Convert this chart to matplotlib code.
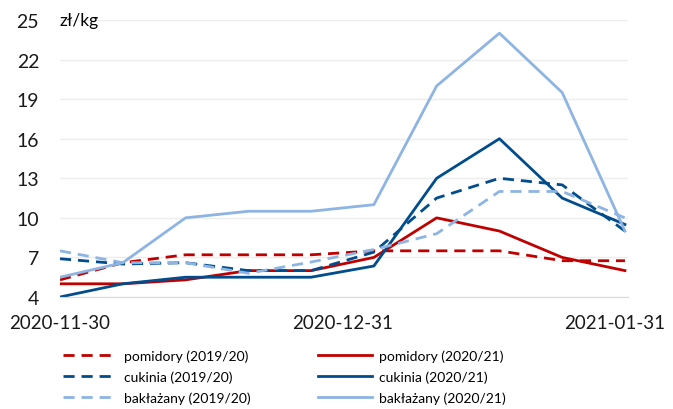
import matplotlib
matplotlib.use("Agg")
import matplotlib.pyplot as plt
import matplotlib.dates as mdates
import matplotlib.transforms as mtransforms
import pandas as pd

# weekly prices, zl/kg
dates = pd.date_range("2020-11-30", "2021-01-31", periods=10)
pomidory_1920 = [5.3, 6.6, 7.2, 7.2, 7.2, 7.5, 7.5, 7.5, 6.75, 6.75]
pomidory_2021 = [5.0, 5.0, 5.3, 6.0, 6.0, 7.0, 10.0, 9.0, 7.0, 6.0]
cukinia_1920 = [6.9, 6.5, 6.6, 6.0, 6.0, 7.4, 11.5, 13.0, 12.5, 9.0]
cukinia_2021 = [4.0, 5.0, 5.5, 5.5, 5.5, 6.35, 13.0, 16.0, 11.5, 9.5]
baklazany_1920 = [7.5, 6.6, 6.6, 5.8, 6.65, 7.6, 8.8, 12.0, 12.0, 10.0]
baklazany_2021 = [5.5, 6.6, 10.0, 10.5, 10.5, 11.0, 20.0, 24.0, 19.5, 9.0]

yticks = [4, 7, 10, 13, 16, 19, 22, 25]
xticks = ["2020-11-30", "2020-12-31", "2021-01-31"]

red = "#C00000"
dblue = "#004C8C"
lblue = "#8DB4E2"

plt.rcParams["font.family"] = ["Lato", "DejaVu Sans"]

fig = plt.figure(figsize=(6.73, 4.10), dpi=100)
ax = fig.add_axes([60 / 673, 1 - 298 / 410, 568 / 673, 277 / 410])

lw = 2.0
dash = (0, (4, 2.5))
ax.plot(dates, pomidory_1920, color=red, lw=lw, ls=dash, label="pomidory (2019/20)")
ax.plot(dates, pomidory_2021, color=red, lw=lw, label="pomidory (2020/21)")
ax.plot(dates, cukinia_1920, color=dblue, lw=lw, ls=dash, label="cukinia (2019/20)")
ax.plot(dates, cukinia_2021, color=dblue, lw=lw, label="cukinia (2020/21)")
ax.plot(dates, baklazany_1920, color=lblue, lw=lw, ls=dash, label="bakłażany (2019/20)")
ax.plot(dates, baklazany_2021, color=lblue, lw=lw, label="bakłażany (2020/21)")

ax.set_ylim(4, 25)
ax.set_yticks(yticks)
ax.set_xlim(pd.Timestamp("2020-11-30"), pd.Timestamp("2021-01-31") + pd.Timedelta(hours=8))
ax.set_xticks(pd.to_datetime(xticks))
ax.xaxis.set_major_formatter(mdates.DateFormatter("%Y-%m-%d"))

ax.grid(axis="y", color="#EDEDED", lw=1)
ax.set_axisbelow(True)
for s in ["top", "right", "left"]:
    ax.spines[s].set_visible(False)
ax.spines["bottom"].set_color("#D9D9D9")
ax.tick_params(axis="both", length=0, colors="#1a1a1a")
ax.tick_params(axis="y", pad=15, labelsize=14)
ax.tick_params(axis="x", pad=12, labelsize=13.5)

# last date label pulled in so it fits the canvas
last = ax.get_xticklabels()[-1]
last.set_transform(last.get_transform() + mtransforms.ScaledTranslation(-10 / 100, 0, fig.dpi_scale_trans))

ax.text(0.0, 1.0, "zł/kg", transform=ax.transAxes, fontsize=12.5, va="center", ha="left")

handles, labels = ax.get_legend_handles_labels()
leg_kw = dict(loc="upper left", frameon=False, fontsize=10, handlelength=3.9,
              handletextpad=0.5, labelspacing=0.6, borderaxespad=0)
fig.legend(handles[0::2], labels[0::2], bbox_to_anchor=(57 / 673, 1 - 345 / 410), **leg_kw)
fig.legend(handles[1::2], labels[1::2], bbox_to_anchor=(312 / 673, 1 - 345 / 410), **leg_kw)

fig.savefig("out.png", dpi=100)
